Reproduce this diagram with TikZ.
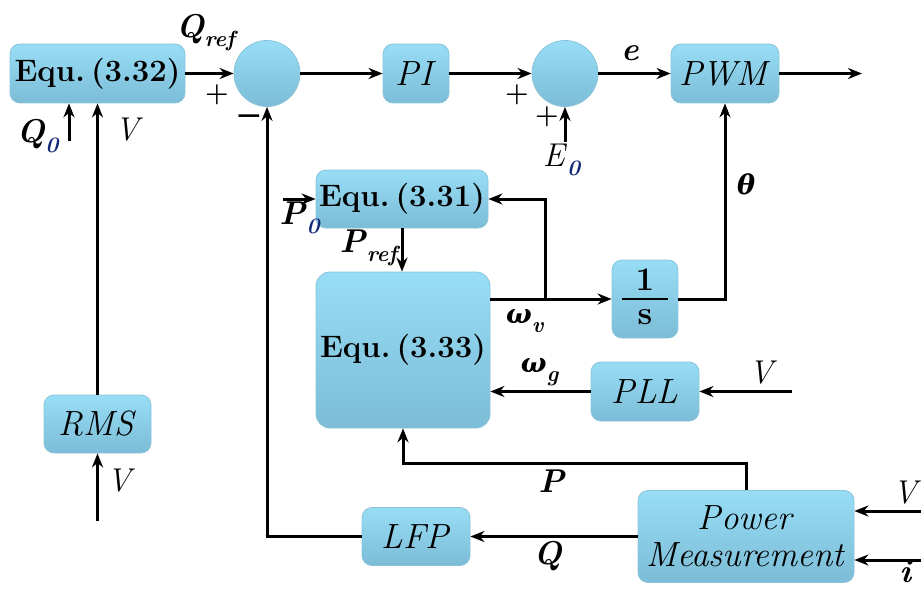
\documentclass[tikz,border=0pt]{standalone}
\usepackage{fontspec}
\newfontfamily\grk{DejaVu Serif}
\usetikzlibrary{arrows.meta}
\definecolor{bxtop}{RGB}{152,221,246}
\definecolor{bxbot}{RGB}{124,188,214}
\definecolor{bxline}{RGB}{138,196,218}
\definecolor{subblue}{RGB}{20,40,120}
\newcommand{\mysub}[1]{\raisebox{-0.28em}{\fontsize{22}{24}\selectfont #1}}
\newcommand{\eqtxt}[1]{Equ.\hspace{0.2em}(#1)}
\begin{document}
\begin{tikzpicture}[x=1pt,y=-1pt,
 blk/.style={draw=bxline, line width=0.8pt, rounded corners=10pt, top color=bxtop, bottom color=bxbot, inner sep=0pt, font=\fontsize{35}{38}\selectfont},
 eqf/.style={font=\fontsize{31}{33}\selectfont\bfseries},
 sumc/.style={circle, draw=bxline, line width=0.8pt, top color=bxtop, bottom color=bxbot, minimum size=66pt, inner sep=0pt},
 wire/.style={line width=3pt, draw=black},
 arr/.style={wire, -{Stealth[length=14pt,width=11pt]}},
 lbl/.style={font=\fontsize{33}{36}\selectfont, inner sep=0pt},
 pmf/.style={font=\fontsize{27}{30}\selectfont\bfseries, inner sep=0pt},
 grkf/.style={font=\fontsize{27}{30}\selectfont\grk\bfseries\itshape, inner sep=0pt}]
\useasboundingbox (0,0) rectangle (921,591);
% blocks
\node[blk, eqf, minimum width=175pt, minimum height=59pt] (e332) at (97.5,73.5) {\eqtxt{3.32}};
\node[sumc] (s1) at (267,73.5) {};
\node[blk, minimum width=66pt, minimum height=59pt] (pi) at (416,73.5) {\textit{PI}};
\node[sumc] (s2) at (565,73.5) {};
\node[blk, minimum width=108pt, minimum height=59pt] (pwm) at (725,73.5) {\textit{PWM}};
\node[blk, minimum width=107pt, minimum height=58pt] (rms) at (97.5,424) {\textit{RMS}};
\node[blk, eqf, minimum width=172pt, minimum height=58pt] (e331) at (402,199) {\eqtxt{3.31}};
\node[blk, eqf, minimum width=174pt, minimum height=156pt, rounded corners=14pt] (e333) at (403,350) {\eqtxt{3.33}};
\node[blk, minimum width=66pt, minimum height=78pt] (integ) at (645,299) {};
\node[lbl] (one) at (645,280) {\textbf{1}};
\node[lbl] (ess) at (645,317) {\textbf{s}};
\draw[line width=1.2pt] ([xshift=-23pt]integ.center) -- ([xshift=23pt]integ.center);
\node[blk, minimum width=108pt, minimum height=59pt] (pll) at (645,391.5) {\textit{PLL}};
\node[blk, minimum width=108pt, minimum height=58pt] (lfp) at (416,536.5) {\textit{LFP}};
\node[blk, minimum width=216pt, minimum height=92pt, align=center, font=\fontsize{35}{37}\selectfont] (pm) at (746,536.5) {\textit{Power}\\\textit{Measurement}};
% coordinates
\coordinate (out) at (862,73.5);
\coordinate (q0s) at (69,141);
\coordinate (vrms) at (97.5,521);
\coordinate (e0s) at (565,142);
\coordinate (p0s) at (283,199);
\coordinate (br) at (545,299);
\coordinate (vpll) at (792,391.5);
\coordinate (vpm) at (921,511);
\coordinate (ipm) at (921,560);
% wires
\draw[arr] (e332.east) -- (s1.west);
\draw[arr] (s1.east) -- (pi.west);
\draw[arr] (pi.east) -- (s2.west);
\draw[arr] (s2.east) -- (pwm.west);
\draw[arr] (pwm.east) -- (out);
\draw[arr] (q0s) -- (q0s |- e332.south);
\draw[arr] (rms.north) -- (e332.south);
\draw[arr] (vrms) -- (rms.south);
\draw[arr] (lfp.west) -| (s1.south);
\draw[arr] (e0s) -- (s2.south);
\draw[arr] (integ.east) -| (pwm.south);
\draw[arr] (p0s) -- (e331.west);
\draw[arr] (e331.south) -- (e331.south |- e333.north);
\draw[arr] (e333.east |- integ.west) -- (integ.west);
\draw[arr] (br) |- (e331.east);
\draw[arr] (pll.west) -- (pll.west -| e333.east);
\draw[arr] (vpll) -- (pll.east);
\draw[arr] (pm.north) -- ++(0,-27) -| (e333.south);
\draw[arr] (pm.west) -- (lfp.east);
\draw[arr] (vpm) -- (vpm -| pm.east);
\draw[arr] (ipm) -- (ipm -| pm.east);
% labels
\node[lbl] (lqref) at (207,33) {\textbf{\textit{Q}\mysub{\textit{ref}}}};
\node[pmf] (lp1) at (217,95) {+};
\node[lbl] (lm1) at (249,121) {\grk −};
\node[lbl] (lq0) at (38,136) {\textbf{\textit{Q}\mysub{\textcolor{subblue}{\textit{0}}}}};
\node[lbl] (lv1) at (129,130) {\textit{V}};
\node[pmf] (lp2) at (517,95) {+};
\node[pmf] (lp3) at (547,117) {+};
\node[lbl] (le0) at (562,160) {\textit{E}\mysub{\textbf{\textcolor{subblue}{\textit{0}}}}};
\node[lbl] (le) at (630,53) {\textbf{\textit{e}}};
\node[grkf] (lth) at (746,184) {θ};
\node[lbl] (lp0) at (300,218) {\textbf{\textit{P}\mysub{\textcolor{subblue}{\textit{0}}}}};
\node[lbl] (lpref) at (370,248) {\textbf{\textit{P}\mysub{\textit{ref}}}};
\node[lbl] (lwv) at (525,321) {{\fontsize{27}{30}\grk\bfseries\itshape ω}\textbf{\mysub{\textit{v}}}};
\node[lbl] (lwg) at (540,372) {{\fontsize{27}{30}\grk\bfseries\itshape ω}\textbf{\mysub{\textit{g}}}};
\node[lbl] (lv2) at (763,373) {\textit{V}};
\node[lbl] (lv3) at (121,481) {\textit{V}};
\node[lbl] (lpp) at (552,481) {\textbf{\textit{P}}};
\node[lbl] (lqq) at (548,556) {\textbf{\textit{Q}}};
\node[lbl] (lv4) at (907,493) {\textit{V}};
\node[lbl] (li) at (906,572) {\textbf{\textit{i}}};
\end{tikzpicture}
\end{document}
